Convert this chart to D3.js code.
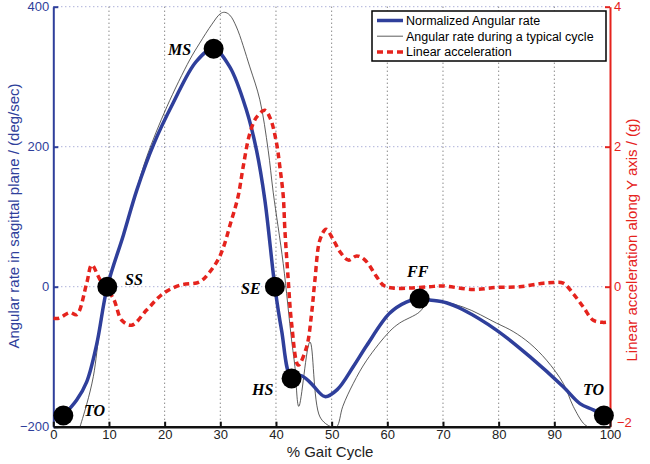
<!DOCTYPE html>
<html><head><meta charset="utf-8">
<script src="https://cdn.jsdelivr.net/npm/d3@7"></script>
<style>body{margin:0;background:#fff}svg{display:block}</style>
</head><body><svg id="c" width="650" height="464"></svg>
<script>
// ---- data ----
const normX = [1.8,4.2,6,7.8,9.7,12.6,15,18,21.5,25.7,28.8,31.7,34.7,36.5,38,39.8,41,42.8,44.5,46.3,48.8,51,53.9,56.3,60.4,63.4,65.8,67.6,70.6,73.6,79.6,85.6,91.6,94.6,97,98.9];
const normRate = [-184,-162,-136,-82,0,74,138,203,262,322,340,314,252,195,124,0,-62,-131,-127,-138,-157,-147,-114,-84,-38,-22,-17,-19,-23,-33,-62,-100,-143,-167,-176,-184];
const typX = [4.8,6,7.2,8.4,9.7,12.6,15,16.8,20.4,24.5,26.3,28.5,30,30.8,31.7,32.9,35.3,37.1,38.6,39.5,41.3,42.8,43.4,44.1,46.1,47.9,49.9,50.9,52,53.9,56.3,60.4,62.2,65.8,67,67.6,73.6,79.6,82.6,85.6,88.6,91.6,93.4,95.2,96];
const typRate = [-200,-168,-128,-58,0,74,140,186,257,324,348,375,390,392,388,371,314,267,195,135,33,-76,-114,-171,-79,-186,-200,-200,-171,-138,-105,-64,-52,-36,-23,-19,-29,-52,-64,-81,-105,-138,-171,-195,-200];
const accX = [0,1,3,4.2,6,6.9,8.4,10.8,12.3,14.1,16.8,19.7,22.7,26.3,28,30,32,33.2,34.1,35.3,36.5,38,39,40.1,40.7,41.3,41.6,42.2,42.8,44,45.5,46.4,47,47.9,49,50.3,51.5,53,54.5,56,58.1,59.3,61,64,67.6,70,75.4,79.6,83.8,88,89.8,91.6,93.4,95.2,97,98.8,100];
const accG = [-0.45,-0.45,-0.37,-0.40,0.05,0.31,0.1,-0.17,-0.48,-0.55,-0.33,-0.1,0.02,0.07,0.2,0.45,0.95,1.29,1.71,2.19,2.42,2.52,2.4,2.05,1.71,1.3,0.81,0.1,-0.52,-1.12,-0.86,-0.38,0.1,0.67,0.82,0.67,0.5,0.38,0.44,0.38,0.14,0.02,-0.02,-0.02,0,0.01,-0.04,-0.01,0,0.05,0.06,0.05,-0.1,-0.29,-0.48,-0.51,-0.5];
const eventNames = ["TO","SS","MS","SE","HS","FF","TO"];
const eventX = [1.8,9.7,28.8,39.8,42.8,65.8,98.9];
const eventY = [-184,0,340,0,-131,-17,-184];
const xTicks = [0,10,20,30,40,50,60,70,80,90,100];
const yLTicks = [-200,0,200,400];
const yRTicks = [-2,0,2,4];
const legendLabels = ["Normalized Angular rate","Angular rate during a typical cycle","Linear acceleration"];

// ---- layout ----
const svg = d3.select("#c");
const BLUE = "#2f3f9b", RED = "#e5231d";
const x = d3.scaleLinear().domain([0,100]).range([53.3,610]);
const yL = d3.scaleLinear().domain([-200,400]).range([426.7,6.7]);
const yR = d3.scaleLinear().domain([-2,4]).range([426.7,6.7]);

// grid
const g = svg.append("g");
g.selectAll(".vg").data(xTicks.filter(d=>d>0&&d<100)).enter().append("line")
  .attr("x1",d=>x(d)).attr("x2",d=>x(d)).attr("y1",yL(400)).attr("y2",yL(-200))
  .attr("stroke","#555").attr("stroke-width",1).attr("stroke-dasharray","1,3");
g.selectAll(".hg").data([0,200,400]).enter().append("line")
  .attr("x1",x(0)).attr("x2",x(100)).attr("y1",d=>yL(d)).attr("y2",d=>yL(d))
  .attr("stroke","#8a8fc8").attr("stroke-width",1).attr("stroke-dasharray","1,3");

// axes
const axL = svg.append("g").attr("transform",`translate(${x(0)},0)`)
  .call(d3.axisLeft(yL).tickValues(yLTicks).tickSizeInner(-5).tickSizeOuter(0).tickPadding(4).tickFormat(d=>d<0?"\u2212"+Math.abs(d):d));
axL.select(".domain").attr("stroke",BLUE).attr("stroke-width",2);
axL.selectAll(".tick line").attr("stroke",BLUE).attr("stroke-width",2);
axL.selectAll("text").attr("fill",BLUE).attr("font-family","Liberation Sans, Arial, sans-serif").attr("font-size",13);

const axR = svg.append("g").attr("transform",`translate(${x(100)},0)`)
  .call(d3.axisRight(yR).tickValues(yRTicks).tickSizeInner(-5).tickSizeOuter(0).tickPadding(4).tickFormat(d=>d<0?"\u2212"+Math.abs(d):d));
axR.select(".domain").attr("stroke",RED).attr("stroke-width",2);
axR.selectAll(".tick line").attr("stroke",RED).attr("stroke-width",2);
axR.selectAll("text").attr("fill",RED).attr("font-family","Liberation Sans, Arial, sans-serif").attr("font-size",13);
axR.selectAll(".tick").filter(d=>d===-2).select("text").attr("dy","0em").attr("dx",3);

const axB = svg.append("g").attr("transform",`translate(0,${yL(-200)})`)
  .call(d3.axisBottom(x).tickValues(xTicks).tickSizeInner(-5).tickSizeOuter(0).tickPadding(3));
axB.select(".domain").attr("stroke","#111").attr("stroke-width",2.5);
axB.selectAll(".tick line").attr("stroke","#111").attr("stroke-width",2);
axB.selectAll("text").attr("fill","#222").attr("font-family","Liberation Sans, Arial, sans-serif").attr("font-size",13);

// axis titles
svg.append("text").attr("x",330).attr("y",457).attr("text-anchor","middle")
  .attr("font-family","Liberation Sans, Arial, sans-serif").attr("font-size",15).attr("fill","#222").text("% Gait Cycle");
svg.append("text").attr("transform","translate(19,216) rotate(-90)").attr("text-anchor","middle")
  .attr("font-family","Liberation Sans, Arial, sans-serif").attr("font-size",15).attr("fill",BLUE)
  .text("Angular rate in sagittal plane / (deg/sec)");
svg.append("text").attr("transform","translate(637,240) rotate(-90)").attr("text-anchor","middle")
  .attr("font-family","Liberation Sans, Arial, sans-serif").attr("font-size",15).attr("fill",RED)
  .text("Linear acceleration along Y axis / (g)");

// lines
svg.append("clipPath").attr("id","pc").append("rect")
  .attr("x",x(0)).attr("y",yL(400)-4).attr("width",x(100)-x(0)).attr("height",yL(-200)-yL(400)+4);
const plot = svg.append("g").attr("clip-path","url(#pc)");
const typData = typX.map((v,i)=>[v,typRate[i]]);
plot.append("path").datum(typData)
  .attr("d",d3.line().x(d=>x(d[0])).y(d=>yL(d[1])).curve(d3.curveCatmullRom.alpha(0.5)))
  .attr("fill","none").attr("stroke","#333").attr("stroke-width",0.8);
const normData = normX.map((v,i)=>[v,normRate[i]]);
plot.append("path").datum(normData)
  .attr("d",d3.line().x(d=>x(d[0])).y(d=>yL(d[1])).curve(d3.curveCatmullRom.alpha(0.5)))
  .attr("fill","none").attr("stroke",BLUE).attr("stroke-width",3.5);
const accData = accX.map((v,i)=>[v,accG[i]]);
plot.append("path").datum(accData)
  .attr("d",d3.line().x(d=>x(d[0])).y(d=>yR(d[1])).curve(d3.curveCatmullRom.alpha(0.5)))
  .attr("fill","none").attr("stroke",RED).attr("stroke-width",3.5).attr("stroke-dasharray","6,4");

// events
svg.selectAll(".ev").data(eventX).enter().append("circle")
  .attr("cx",d=>x(d)).attr("cy",(d,i)=>yL(eventY[i])).attr("r",10).attr("fill","#000");
const labelPos = [[84,416],[125,285],[168,55],[241,294],[252,395],[407,277],[583,395]];
svg.selectAll(".evl").data(eventNames).enter().append("text")
  .attr("x",(d,i)=>labelPos[i][0]).attr("y",(d,i)=>labelPos[i][1])
  .attr("font-family","Liberation Serif, Times New Roman, serif").attr("font-weight","bold").attr("font-style","italic")
  .attr("font-size",16).attr("fill","#000").text(d=>d);

// legend
const lg = svg.append("g");
lg.append("rect").attr("x",372).attr("y",11).attr("width",234).attr("height",50)
  .attr("fill","#fff").attr("stroke","#000").attr("stroke-width",1.5);
const styles = [{c:BLUE,w:3.5,d:null},{c:"#333",w:0.8,d:null},{c:RED,w:3.5,d:"6,4"}];
legendLabels.forEach((t,i)=>{
  const yy = 20.5 + i*15.7;
  const ln = lg.append("line").attr("x1",377).attr("x2",403).attr("y1",yy).attr("y2",yy)
    .attr("stroke",styles[i].c).attr("stroke-width",styles[i].w);
  if(styles[i].d) ln.attr("stroke-dasharray",styles[i].d);
  lg.append("text").attr("x",406).attr("y",yy).attr("dy","0.35em")
    .attr("font-family","Liberation Sans, Arial, sans-serif").attr("font-size",12.5).attr("fill","#000").text(t);
});
</script></body></html>
